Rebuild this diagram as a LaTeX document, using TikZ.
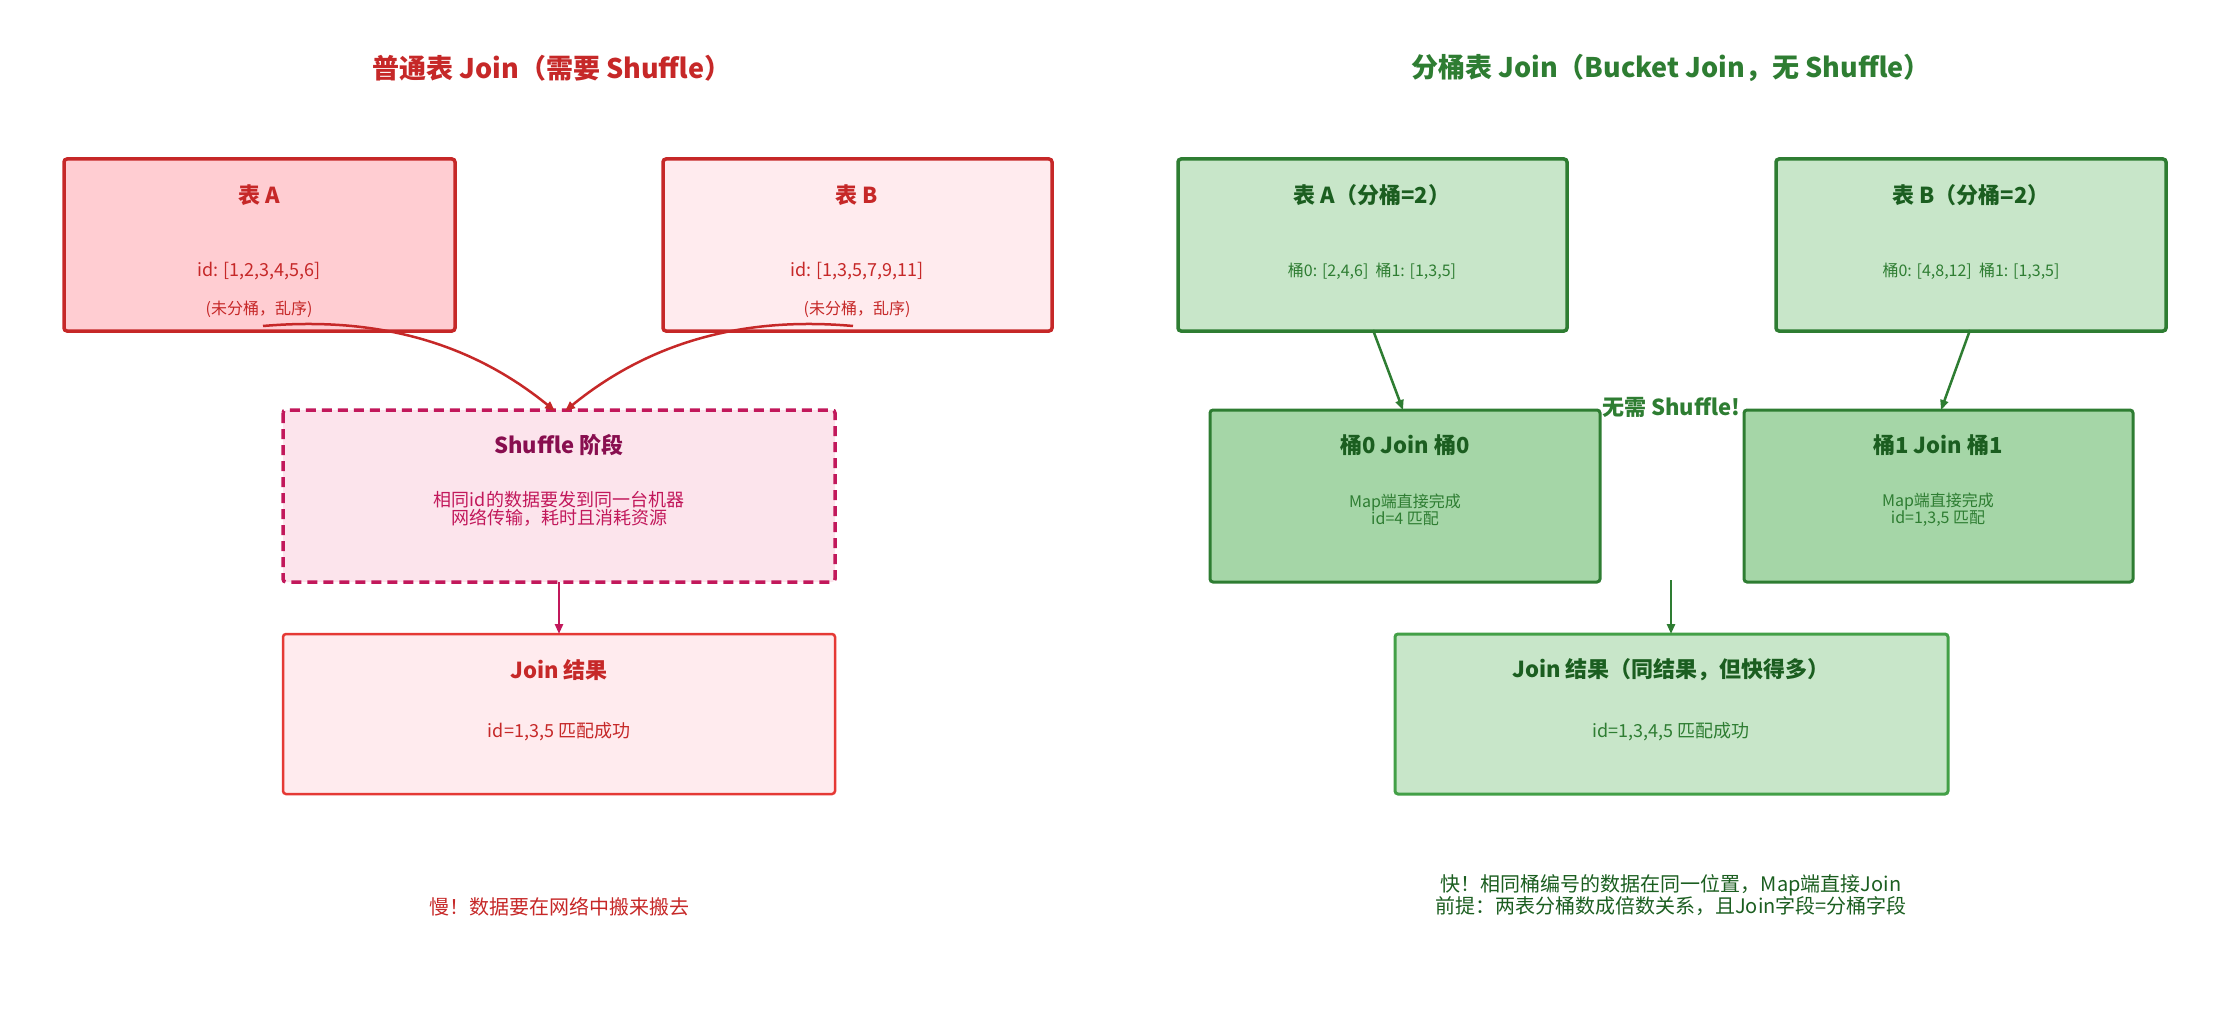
\documentclass[tikz,border=0pt]{standalone}
\usepackage{fontspec}
\setmainfont{Noto Sans CJK SC}
\usetikzlibrary{arrows.meta}
\definecolor{rd}{HTML}{C62828}
\definecolor{rdA}{HTML}{FFCDD2}
\definecolor{rdB}{HTML}{FFEBEE}
\definecolor{pk}{HTML}{C2185B}
\definecolor{pkF}{HTML}{FCE4EC}
\definecolor{pkT}{HTML}{880E4F}
\definecolor{rdJ}{HTML}{E53935}
\definecolor{gr}{HTML}{2E7D32}
\definecolor{grF}{HTML}{C8E6C9}
\definecolor{grB}{HTML}{A5D6A7}
\definecolor{grT}{HTML}{1B5E20}
\definecolor{grJ}{HTML}{43A047}
\tikzset{
 box/.style={rounded corners=3pt},
 ttl/.style={font=\fontsize{27}{32}\selectfont\bfseries},
 bt/.style={font=\fontsize{22}{26}\selectfont\bfseries},
 tx/.style={font=\fontsize{18}{22}\selectfont, align=center},
 sm/.style={font=\fontsize{16}{20}\selectfont, align=center},
 arr/.style={-{Stealth[length=10pt,width=8pt,inset=0pt]}, line width=2.5pt},
}
\begin{document}
\begin{tikzpicture}[x=1pt,y=-1pt]
\useasboundingbox (0,0) rectangle (2230,1030);
% left
\node[ttl, text=rd] (t1) at (552,68) {普通表 Join（需要 Shuffle）};
\draw[box, draw=rd, fill=rdA, line width=3.5pt] (64,159) rectangle (455,331);
\draw[box, draw=rd, fill=rdB, line width=3.5pt] (663,159) rectangle (1052,331);
\node[bt, text=rd] (ah) at (259,195) {表 A};
\node[tx, text=rd] (ai) at (259,271) {id: [1,2,3,4,5,6]};
\node[sm, text=rd] (an) at (259,309) {(未分桶，乱序)};
\node[bt, text=rd] (bh) at (857,195) {表 B};
\node[tx, text=rd] (bi) at (857,271) {id: [1,3,5,7,9,11]};
\node[sm, text=rd] (bn) at (857,309) {(未分桶，乱序)};
\draw[box, draw=pk, fill=pkF, line width=3.5pt, dash pattern=on 10pt off 6pt] (283,410) rectangle (835,582);
\node[bt, text=pkT] (sh) at (559,445) {Shuffle 阶段};
\node[tx, text=pk] (sd) at (559,509) {相同id的数据要发到同一台机器\\[-4pt]网络传输，耗时且消耗资源};
\draw[box, draw=rdJ, fill=rdB, line width=2.5pt] (283,634) rectangle (835,794);
\node[bt, text=rd] (jh) at (559,670) {Join 结果};
\node[tx, text=rd] (ji) at (559,732) {id=1,3,5 匹配成功};
\node[tx, text=rd, font=\fontsize{20}{24}\selectfont] (slow) at (559,907) {慢！数据要在网络中搬来搬去};
\coordinate (as) at (263,326); \coordinate (ae) at (555,411);
\coordinate (bs) at (853,326); \coordinate (be) at (565,411);
\draw[arr, draw=rd] (as) .. controls (390,315) and (480,350) .. (ae);
\draw[arr, draw=rd] (bs) .. controls (730,315) and (640,350) .. (be);
\coordinate (s1) at (559,582); \coordinate (s2) at (559,634);
\draw[arr, draw=pk] (s1) -- (s2);
% right
\node[ttl, text=gr] (t2) at (1671,68) {分桶表 Join（Bucket Join，无 Shuffle）};
\draw[box, draw=gr, fill=grF, line width=3.5pt] (1178,159) rectangle (1567,331);
\draw[box, draw=gr, fill=grF, line width=3.5pt] (1776,159) rectangle (2166,331);
\node[bt, text=grT] (rah) at (1372,195) {表 A（分桶=2）};
\node[sm, text=gr] (rai) at (1372,271) {桶0: [2,4,6]\ \ 桶1: [1,3,5]};
\node[bt, text=grT] (rbh) at (1971,195) {表 B（分桶=2）};
\node[sm, text=gr] (rbi) at (1971,271) {桶0: [4,8,12]\ \ 桶1: [1,3,5]};
\draw[box, draw=gr, fill=grB, line width=3pt] (1210,410) rectangle (1600,582);
\draw[box, draw=gr, fill=grB, line width=3pt] (1744,410) rectangle (2133,582);
\node[bt, text=grT] (b0h) at (1405,445) {桶0 Join 桶0};
\node[sm, text=gr] (b0d) at (1405,510) {Map端直接完成\\[-3pt]id=4 匹配};
\node[bt, text=grT] (b1h) at (1938,445) {桶1 Join 桶1};
\node[sm, text=gr] (b1d) at (1938,510) {Map端直接完成\\[-3pt]id=1,3,5 匹配};
\node[bt, text=gr] (ns) at (1671,407) {无需 Shuffle!};
\draw[box, draw=grJ, fill=grF, line width=3pt] (1395,634) rectangle (1948,794);
\node[bt, text=grT] (rjh) at (1671,670) {Join 结果（同结果，但快得多）};
\node[tx, text=gr] (rji) at (1671,732) {id=1,3,4,5 匹配成功};
\node[tx, text=grT, font=\fontsize{20}{24}\selectfont] (fast) at (1671,895) {快！相同桶编号的数据在同一位置，\textit{Map}端直接\textit{Join}\\[-2pt]前提：两表分桶数成倍数关系，且\textit{Join}字段=分桶字段};
\coordinate (g1) at (1373,330); \coordinate (g2) at (1403,410);
\coordinate (g3) at (1970,330); \coordinate (g4) at (1941,410);
\coordinate (g5) at (1671,580); \coordinate (g6) at (1671,634);
\draw[arr, draw=gr] (g1) -- (g2);
\draw[arr, draw=gr] (g3) -- (g4);
\draw[arr, draw=gr] (g5) -- (g6);
\end{tikzpicture}
\end{document}
